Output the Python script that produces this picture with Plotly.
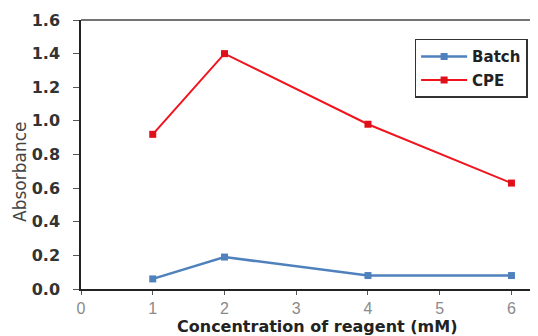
import plotly.graph_objects as go

conc = [1, 2, 4, 6]
batch = [0.06, 0.19, 0.08, 0.08]
cpe = [0.92, 1.40, 0.98, 0.63]
x_ticks = [0, 1, 2, 3, 4, 5, 6]
y_ticks = [0.0, 0.2, 0.4, 0.6, 0.8, 1.0, 1.2, 1.4, 1.6]

BOLD = "DejaVu Sans, sans-serif"

fig = go.Figure()
fig.add_trace(go.Scatter(x=conc, y=batch, name="Batch", mode="lines+markers", legendgroup="a",
                         line=dict(color="#4F81BD", width=2.5),
                         marker=dict(symbol="square", size=7, color="#4F81BD")))
fig.add_trace(go.Scatter(x=conc, y=cpe, name="CPE", mode="lines+markers", legendgroup="b",
                         line=dict(color="#F0141E", width=2),
                         marker=dict(symbol="square", size=7, color="#E0101A")))

# page body has an 8px margin; compensate so the plot lands where the reference has it
fig.update_layout(
    width=530, height=328,
    margin=dict(l=73, r=0, t=12, b=47),
    paper_bgcolor="white", plot_bgcolor="white",
    showlegend=True,
    legend=dict(x=0.73, y=0.93, xanchor="left", yanchor="top",
                bordercolor="#333", borderwidth=1.5, bgcolor="white",
                font=dict(size=15, color="#222", family=BOLD, weight="bold"),
                tracegroupgap=1, itemwidth=46),
    xaxis=dict(range=[0, 6.37], tickvals=x_ticks, ticktext=[str(v) for v in x_ticks],
               automargin=False,
               showgrid=False, zeroline=False, showline=True, linecolor="#222", linewidth=1.5,
               ticks="outside", ticklen=4, tickcolor="#555",
               tickfont=dict(size=16, color="#8a8a8a", family="Liberation Sans, Arial, sans-serif")),
    yaxis=dict(range=[0, 1.6], tickvals=y_ticks, ticktext=[f"{v:.1f}" for v in y_ticks],
               automargin=False,
               showgrid=False, zeroline=False, showline=True, linecolor="#222", linewidth=1.5,
               ticks="outside", ticklen=6, tickcolor="#555", ticklabelstandoff=10,
               tickfont=dict(size=16, color="#333", family=BOLD, weight="bold")),
    annotations=[
        dict(text="Concentration of reagent (mM)", xref="paper", yref="paper",
             x=0.516, y=-0.138, xanchor="center", yanchor="middle", showarrow=False,
             font=dict(size=16, color="#222", family=BOLD, weight="bold")),
        dict(text="Absorbance", xref="paper", yref="paper", textangle=-90,
             x=-0.1335, y=0.435, xanchor="center", yanchor="middle", showarrow=False,
             font=dict(size=17, color="#444", family=BOLD)),
    ],
)
fig.add_shape(type="line", xref="paper", yref="paper", x0=0, x1=1, y0=1, y1=1,
              line=dict(color="#444", width=1.5))

fig.write_html("out.html")
